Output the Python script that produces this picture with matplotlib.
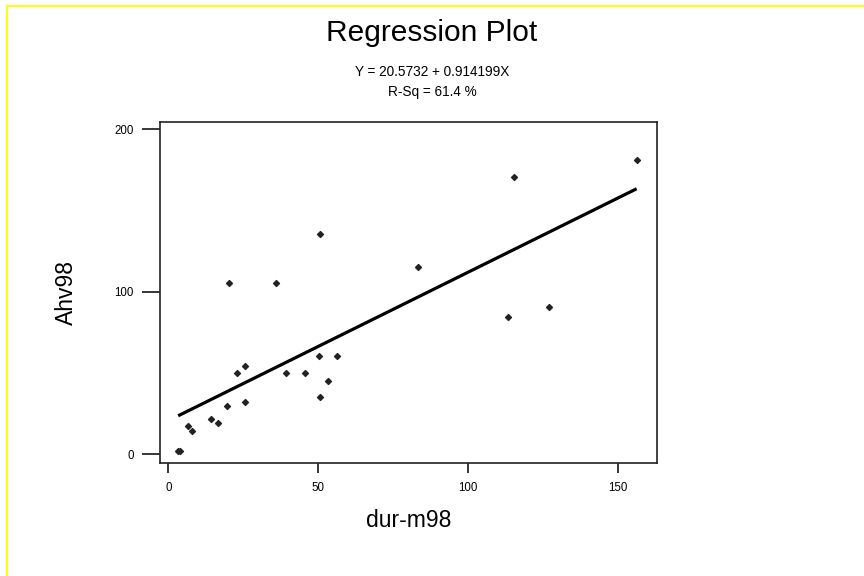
import numpy as np
import matplotlib
matplotlib.use("Agg")
import matplotlib.pyplot as plt
from matplotlib.patches import Rectangle

# data
dur_m98 = [3.3, 4.0, 6.7, 7.8, 14.1, 16.5, 19.7, 25.6, 22.8, 25.6, 39.2, 45.7,
           50.2, 56.2, 53.4, 50.6, 20.2, 35.9, 50.7, 83.4, 113.4, 127.0, 115.5, 156.3]
ahv98 = [1.6, 1.6, 17.3, 14.4, 21.6, 19.3, 29.8, 31.8, 49.9, 54.4, 49.9, 49.9,
         60.2, 60.2, 45.2, 34.9, 105.5, 105.5, 135.7, 115.0, 84.6, 90.6, 170.7, 181.1]
intercept = 20.5732
slope = 0.914199
r_sq = 61.4

x_ticks = [0, 50, 100, 150]
y_ticks = [0, 100, 200]


def main():
    plt.rcParams['font.family'] = ['Liberation Sans', 'DejaVu Sans']
    fig = plt.figure(figsize=(8.64, 5.76), dpi=100)

    # yellow frame round the page
    fig.patches.append(Rectangle((7 / 864, -0.1), 1.2, 1 - 6 / 576 + 0.1,
                                 transform=fig.transFigure, fill=False,
                                 edgecolor="#ffff00", linewidth=1.4))

    ax = fig.add_axes([160 / 864, 1 - 463 / 576, 496.7 / 864, 341 / 576])

    ax.scatter(dur_m98, ahv98, marker="D", s=9, color="#222222", zorder=3)
    xs = np.array([min(dur_m98), max(dur_m98)])
    ax.plot(xs, intercept + slope * xs, color="black", linewidth=2.3, solid_capstyle="butt")

    ax.set_xlim(-2.77, 163.0)
    ax.set_ylim(-5.5, 204.6)
    ax.set_xticks(x_ticks)
    ax.set_yticks(y_ticks)
    for s in ax.spines.values():
        s.set_linewidth(1.2)
        s.set_color("#222222")
    ax.tick_params(axis="y", direction="out", length=13, width=1.1, pad=6, labelsize=8.3)
    ax.tick_params(axis="x", direction="out", length=7, width=1.1, pad=7, labelsize=8.3)

    ax.set_xlabel("dur-m98", fontsize=16.5)
    ax.set_ylabel("Ahv98", fontsize=16.5)
    ax.xaxis.set_label_coords(0.5, -0.135)
    ax.yaxis.set_label_coords(-0.165, 0.5)

    fig.text(0.5, 1 - 33 / 576, "Regression Plot", ha="center", va="center", fontsize=21.5)
    fig.text(0.5, 1 - 72 / 576, "Y = 20.5732 + 0.914199X", ha="center", va="center", fontsize=9.8)
    fig.text(0.5, 1 - 92 / 576, "R-Sq = {:.1f} %".format(r_sq), ha="center", va="center", fontsize=9.8)

    fig.savefig("out.png", dpi=100)


if __name__ == "__main__":
    main()
